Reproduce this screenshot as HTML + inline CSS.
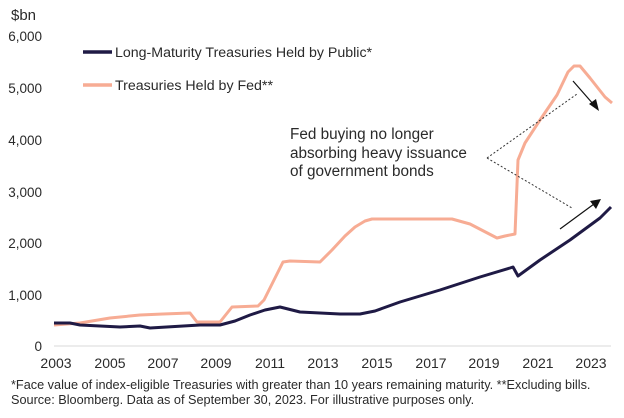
<!DOCTYPE html>
<html><head><style>
body{margin:0;background:#fff;}
svg text{font-family:"Liberation Sans",sans-serif;fill:#2a2a2a;}
</style></head><body>
<svg width="624" height="413" viewBox="0 0 624 413" xmlns="http://www.w3.org/2000/svg">
<text x="11" y="20" font-size="15">$bn</text>
<g font-size="13.5" text-anchor="end">
<text x="42" y="41">6,000</text>
<text x="42" y="93">5,000</text>
<text x="42" y="145">4,000</text>
<text x="42" y="197">3,000</text>
<text x="42" y="248">2,000</text>
<text x="42" y="300">1,000</text>
<text x="42" y="351">0</text>
</g>
<line x1="54" y1="346" x2="611" y2="346" stroke="#d8d8d8" stroke-width="1"/>
<g font-size="14" text-anchor="middle">
<text x="56" y="368">2003</text><text x="110" y="368">2005</text><text x="163" y="368">2007</text>
<text x="216" y="368">2009</text><text x="270" y="368">2011</text><text x="323" y="368">2013</text>
<text x="377" y="368">2015</text><text x="431" y="368">2017</text><text x="484" y="368">2019</text>
<text x="538" y="368">2021</text><text x="591" y="368">2023</text>
</g>
<line x1="83" y1="52" x2="112" y2="52" stroke="#1f1a45" stroke-width="3.5"/>
<text x="115" y="57" font-size="14.2">Long-Maturity Treasuries Held by Public*</text>
<line x1="83" y1="85" x2="112" y2="85" stroke="#f7ac94" stroke-width="3.5"/>
<text x="115" y="90" font-size="14.2">Treasuries Held by Fed**</text>
<g font-size="15.3">
<text x="290" y="139">Fed buying no longer</text>
<text x="290" y="158">absorbing heavy issuance</text>
<text x="290" y="176">of government bonds</text>
</g>
<polyline fill="none" stroke="#f7ac94" stroke-width="3" stroke-linejoin="round" points="54,325 80,323 110,318 140,315 163,314 190,313 197,322 220,322 232,307 258,306 264,300 283,262 290,261 320,262 332,250 345,236 355,227 365,221 372,219 452,219 470,224 497,238 505,236 515,234 518,160 525,143 540,120 557,95 568,72 574,66 580,66 590,78 605,97 612,103"/>
<polyline fill="none" stroke="#1f1a45" stroke-width="3" stroke-linejoin="round" points="54,323 70,323 80,325 120,327 140,326 150,328 200,325 220,325 235,321 250,315 265,310 280,307 288,309 300,312 340,314 360,314 375,311 400,302 440,290 480,277 510,268 513,267 518,276 540,260 570,240 600,218 611,207"/>
<g stroke="#333" stroke-width="1" stroke-dasharray="2,2" fill="none">
<line x1="487" y1="158" x2="577" y2="94"/>
<line x1="487" y1="158" x2="572" y2="208"/>
</g>
<line x1="573" y1="81" x2="594" y2="105" stroke="#111" stroke-width="1.2"/>
<polygon points="599,111 589,104 596,99" fill="#111"/>
<line x1="560" y1="229" x2="594" y2="204" stroke="#111" stroke-width="1.2"/>
<polygon points="601,199 590,201 596,209" fill="#111"/>
<g font-size="12.7">
<text x="11" y="389">*Face value of index-eligible Treasuries with greater than 10 years remaining maturity. **Excluding bills.</text>
<text x="11" y="404">Source: Bloomberg. Data as of September 30, 2023. For illustrative purposes only.</text>
</g>
</svg>
</body></html>
